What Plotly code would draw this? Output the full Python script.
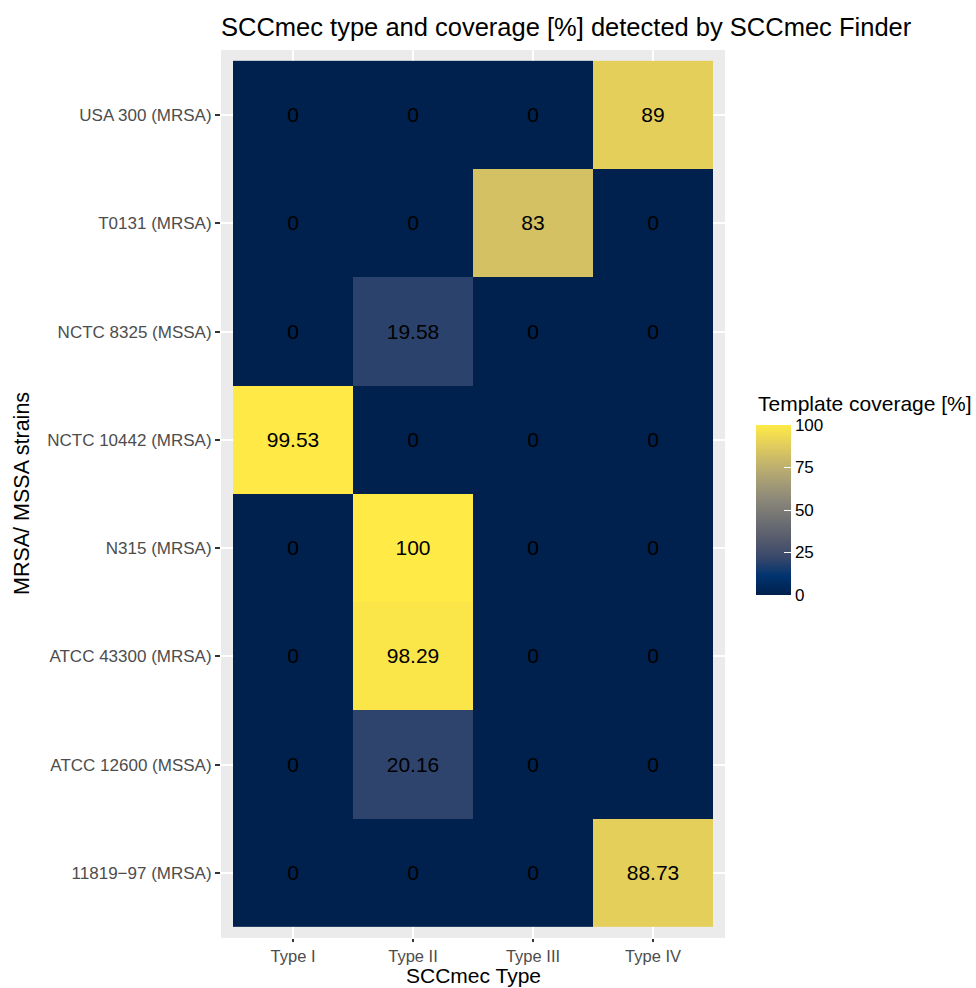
import plotly.graph_objects as go

types = ["Type I", "Type II", "Type III", "Type IV"]
strains = ["11819\u221297 (MRSA)", "ATCC 12600 (MSSA)", "ATCC 43300 (MRSA)", "N315 (MRSA)",
           "NCTC 10442 (MRSA)", "NCTC 8325 (MSSA)", "T0131 (MRSA)", "USA 300 (MRSA)"]
type_i = [0, 0, 0, 0, 99.53, 0, 0, 0]
type_ii = [0, 20.16, 98.29, 100, 0, 19.58, 0, 0]
type_iii = [0, 0, 0, 0, 0, 0, 83, 0]
type_iv = [88.73, 0, 0, 0, 0, 0, 0, 89]
cbar_ticks = [0, 25, 50, 75, 100]

cols = [type_i, type_ii, type_iii, type_iv]
z = [[cols[j][i] for j in range(len(types))] for i in range(len(strains))]
txt = [[("%g" % v) for v in row] for row in z]

cividis_hex = ["#00204D", "#00336F", "#39486B", "#575C6D", "#707173",
               "#8A8779", "#A69D75", "#C4B56C", "#E4CF5B", "#FFEA46"]
cividis = [[i / (len(cividis_hex) - 1), c] for i, c in enumerate(cividis_hex)]

W, H = 976, 988
L, R, T, B = 221, 725, 50, 938  # panel edges in px


def px_x(p):
    return (p - L) / (R - L)


def px_y(p):
    return (B - p) / (B - T)


fig = go.Figure(go.Heatmap(
    x=list(range(len(types))), y=list(range(len(strains))), z=z,
    text=txt, texttemplate="%{text}",
    textfont=dict(size=21, color="black", family="Liberation Sans, Arial"),
    colorscale=cividis, zmin=0, zmax=100, hoverinfo="skip",
    colorbar=dict(
        tickvals=cbar_ticks, ticks="inside", tickcolor="white", ticklen=7, tickwidth=1,
        tickfont=dict(size=17, color="black"), outlinewidth=0,
        thickness=35, len=170, lenmode="pixels",
        x=px_x(756), xanchor="left",
        y=px_y(595), yanchor="bottom", xpad=0, ypad=0,
    ),
))

axis_common = dict(showgrid=True, gridcolor="white", gridwidth=2, zeroline=False,
                   ticks="outside", ticklen=5, tickwidth=2, tickcolor="#333333",
                   tickfont=dict(size=17, color="#4D4D4D"), showline=False, automargin=False)

fig.update_layout(
    width=W, height=H,
    margin=dict(l=L, r=W - R, t=T, b=H - B),
    paper_bgcolor="white", plot_bgcolor="#EBEBEB",
    font=dict(family="Liberation Sans, Arial", color="black"),
    title=dict(text="SCCmec type and coverage [%] detected by SCCmec Finder",
               x=L / W, xanchor="left", y=1 - 27 / H, yanchor="middle",
               font=dict(size=25.5, color="black")),
    xaxis=dict(axis_common, range=[-0.6, 3.6], tickvals=list(range(len(types))), ticktext=types,
               ticklen=3, tickfont=dict(size=16.5, color="#4D4D4D")),
    yaxis=dict(axis_common, range=[-0.6, 7.6], tickvals=list(range(len(strains))), ticktext=strains),
    annotations=[
        dict(text="Template coverage [%]", xref="paper", yref="paper",
             x=px_x(756), y=px_y(403), xanchor="left", yanchor="middle",
             showarrow=False, font=dict(size=21, color="black")),
        dict(text="SCCmec Type", xref="paper", yref="paper",
             x=0.5, y=px_y(988), xanchor="center", yanchor="bottom", borderpad=0,
             showarrow=False, font=dict(size=21, color="black")),
        dict(text="MRSA/ MSSA strains", xref="paper", yref="paper", textangle=-90,
             x=px_x(22), y=0.5, xanchor="center", yanchor="middle",
             showarrow=False, font=dict(size=21.5, color="black")),
    ],
)

fig.write_html("out.html", config={"displayModeBar": False},
               post_script="document.body.style.margin='0px';")
